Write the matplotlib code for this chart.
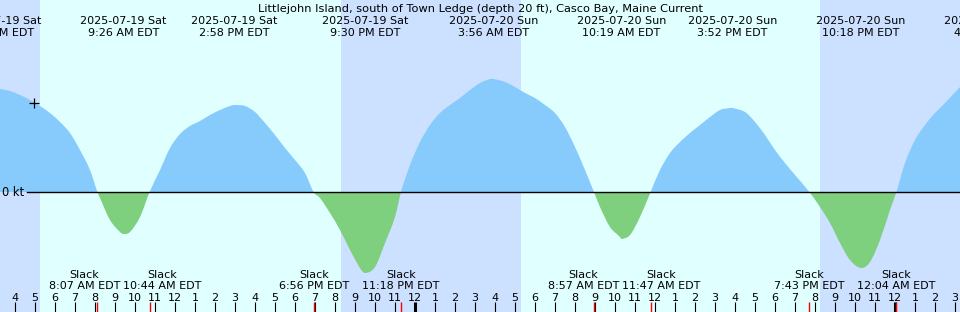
import matplotlib
matplotlib.use("Agg")
from matplotlib import pyplot as plt
from matplotlib.transforms import blended_transform_factory
from matplotlib.path import Path
from matplotlib.patches import PathPatch, Rectangle
import pandas as pd
import numpy as np

plt.rcParams['font.family'] = ['DejaVu Sans']

title = "Littlejohn Island, south of Town Ledge (depth 20 ft), Casco Bay, Maine Current"
start = pd.Timestamp("2025-07-19 03:15")
end = pd.Timestamp("2025-07-21 03:15")
day0 = pd.Timestamp("2025-07-19 00:00")

# current speed samples (hours from Sat midnight, knots; + flood, - ebb)
curve_hours = [3.25, 3.75, 4.25, 4.75, 5.25, 5.75, 6.25, 6.75, 7.25, 7.75, 8.12,
               8.25, 8.75, 9.25, 9.43, 9.75, 10.25, 10.73, 11.25, 11.75, 12.25,
               12.75, 13.25, 13.75, 14.25, 14.75, 14.97, 15.5, 16.0, 16.5, 17.0,
               17.5, 18.0, 18.5, 18.93, 19.25, 19.75, 20.25, 20.75, 21.25, 21.5,
               22.0, 22.5, 23.0, 23.3, 23.75, 24.25, 24.75, 25.25, 25.75, 26.25,
               26.75, 27.25, 27.75, 27.93, 28.5, 29.0, 29.5, 30.0, 30.5, 31.0,
               31.5, 32.0, 32.5, 32.95, 33.25, 33.75, 34.25, 34.32, 34.75, 35.25,
               35.78, 36.25, 36.75, 37.25, 37.75, 38.25, 38.75, 39.25, 39.75, 39.87,
               40.5, 41.0, 41.5, 42.0, 42.5, 43.0, 43.72, 44.25, 44.75, 45.25,
               45.75, 46.3, 46.75, 47.25, 47.75, 48.07, 48.5, 49.0, 49.5, 50.0,
               50.5, 51.25]
curve_kt = [1.03, 1.01, 0.97, 0.92, 0.86, 0.79, 0.70, 0.59, 0.42, 0.22, 0.0,
            -0.06, -0.28, -0.40, -0.42, -0.40, -0.25, 0.0, 0.22, 0.44, 0.58,
            0.66, 0.71, 0.77, 0.82, 0.86, 0.87, 0.86, 0.80, 0.69, 0.57,
            0.44, 0.32, 0.19, 0.0, -0.06, -0.21, -0.38, -0.58, -0.76, -0.81,
            -0.75, -0.51, -0.25, 0.0, 0.27, 0.50, 0.67, 0.79, 0.87, 0.94,
            1.02, 1.09, 1.13, 1.13, 1.10, 1.05, 0.99, 0.94, 0.87, 0.79,
            0.65, 0.45, 0.22, 0.0, -0.15, -0.35, -0.45, -0.47, -0.43, -0.25,
            0.0, 0.22, 0.39, 0.50, 0.59, 0.67, 0.75, 0.82, 0.84, 0.84,
            0.80, 0.70, 0.57, 0.42, 0.29, 0.17, 0.0, -0.15, -0.31, -0.51,
            -0.68, -0.76, -0.70, -0.48, -0.18, 0.0, 0.29, 0.52, 0.67, 0.79,
            0.89, 1.05]

# max flood / max ebb events (top labels)
peak_times = ["2025-07-19 03:11", "2025-07-19 09:26", "2025-07-19 14:58",
              "2025-07-19 21:30", "2025-07-20 03:56", "2025-07-20 10:19",
              "2025-07-20 15:52", "2025-07-20 22:18", "2025-07-21 04:43"]
# slack events (bottom labels)
slack_times = ["2025-07-19 08:07", "2025-07-19 10:44", "2025-07-19 18:56",
               "2025-07-19 23:18", "2025-07-20 08:57", "2025-07-20 11:47",
               "2025-07-20 19:43", "2025-07-21 00:04"]
sunrise = ["2025-07-19 05:15", "2025-07-20 05:18"]
sunset = ["2025-07-19 20:18", "2025-07-20 20:15"]
now_time = "2025-07-19 04:57"
now_kt = 0.89

day_color = "#e0ffff"
night_color = "#cce0ff"
flood_color = "#87cbfd"
ebb_color = "#7ecf7e"


def hrs(s):
    return (pd.Timestamp(s) - day0) / pd.Timedelta(hours=1)


def fmt_time(ts):
    h = ts.hour % 12 or 12
    return f"{h}:{ts.minute:02d} {'AM' if ts.hour < 12 else 'PM'} EDT"


def smooth_path(x, y):
    # cubic bezier through the samples, closed down to the zero line
    n = len(x)
    m = np.zeros(n)
    m[1:-1] = (y[2:] - y[:-2]) / (x[2:] - x[:-2])
    m[0] = (y[1] - y[0]) / (x[1] - x[0])
    m[-1] = (y[-1] - y[-2]) / (x[-1] - x[-2])
    verts = [(x[0], 0), (x[0], y[0])]
    codes = [Path.MOVETO, Path.LINETO]
    for i in range(n - 1):
        h = x[i + 1] - x[i]
        verts += [(x[i] + h / 3, y[i] + m[i] * h / 3),
                  (x[i + 1] - h / 3, y[i + 1] - m[i + 1] * h / 3),
                  (x[i + 1], y[i + 1])]
        codes += [Path.CURVE4] * 3
    verts += [(x[-1], 0), (x[0], 0)]
    codes += [Path.LINETO, Path.CLOSEPOLY]
    return Path(verts, codes)


W, H = 960, 312
fig = plt.figure(figsize=(W / 100, H / 100), dpi=100)
ax = fig.add_axes([0, 0, 1, 1])
ax.set_axis_off()
x0, x1 = hrs(start), hrs(end)
ax.set_xlim(x0, x1)
ax.set_ylim(-1.20, 1.92)
pph = W / (x1 - x0)

bt = blended_transform_factory(ax.transData, ax.transAxes)


def fy(py):
    return 1 - py / H


# day / night
ax.axvspan(x0, x1, color=day_color, lw=0, zorder=0)
nights = [(x0, hrs(sunrise[0])), (hrs(sunset[0]), hrs(sunrise[1])), (hrs(sunset[1]), x1)]
for a, b in nights:
    ax.axvspan(a, b, color=night_color, lw=0, zorder=0.5)

t = np.array(curve_hours)
v = np.array(curve_kt)
path = smooth_path(t, v)
for col, y_lo in [(flood_color, 0), (ebb_color, -5)]:
    patch = PathPatch(path, facecolor=col, lw=0, zorder=1)
    ax.add_patch(patch)
    clip = Rectangle((x0 - 1, y_lo), x1 - x0 + 2, 5, transform=ax.transData)
    patch.set_clip_path(clip)

ax.axhline(0, xmin=27 / W, xmax=1, color="black", lw=1.0, zorder=2)
ax.text(2 / pph + x0, 0, "0 kt", fontsize=8.3, ha="left", va="center", zorder=3)

ax.plot([hrs(now_time)], [now_kt], marker="+", color="black", ms=6.5, mew=0.9, zorder=3)

ax.text(0.5, fy(11.5), title, transform=ax.transAxes, fontsize=8.2, ha="center",
        va="baseline")

# peak labels
for s in peak_times:
    ts = pd.Timestamp(s)
    h = hrs(s)
    ax.text(h, fy(23.5), ts.strftime("%Y-%m-%d %a"), transform=bt, fontsize=8,
            ha="center", va="baseline", clip_on=False)
    ax.text(h, fy(35.5), fmt_time(ts), transform=bt, fontsize=8,
            ha="center", va="baseline", clip_on=False)

# hour ticks
tick_top = fy(302)
hours = np.arange(int(np.ceil(x0)), int(np.floor(x1)) + 1)
for h in hours:
    lab = str((h % 12) or 12)
    midnight = h % 24 == 0
    ax.vlines(h, 0, tick_top, transform=bt, color="black",
              lw=2.2 if midnight else 0.8, zorder=3)
    ax.text(h, fy(301), lab, transform=bt, fontsize=8, ha="center", va="baseline")
for s in slack_times:
    ax.vlines(hrs(s), 0, tick_top, transform=bt, color="red", lw=1.0, zorder=4)

# slack labels, pushed apart if they overlap
slack_h = [hrs(s) for s in slack_times]
top_txt, bot_txt = [], []
for s, h in zip(slack_times, slack_h):
    top_txt.append(ax.text(h, fy(277.7), "Slack", transform=bt, fontsize=8,
                           ha="center", va="baseline"))
    bot_txt.append(ax.text(h, fy(289.3), fmt_time(pd.Timestamp(s)), transform=bt,
                           fontsize=8, ha="center", va="baseline"))
fig.canvas.draw()
r = fig.canvas.get_renderer()
widths = [tx.get_window_extent(r).width for tx in bot_txt]
pos = list(slack_h)
for i in range(len(pos) - 1):
    need = (widths[i] + widths[i + 1]) / 2 + 3
    gap = (pos[i + 1] - pos[i]) * pph
    if gap < need:
        d = (need - gap) / 2 / pph
        pos[i] -= d
        pos[i + 1] += d
for a, b, p in zip(top_txt, bot_txt, pos):
    a.set_x(p)
    b.set_x(p)

fig.savefig("out.png", dpi=100)
